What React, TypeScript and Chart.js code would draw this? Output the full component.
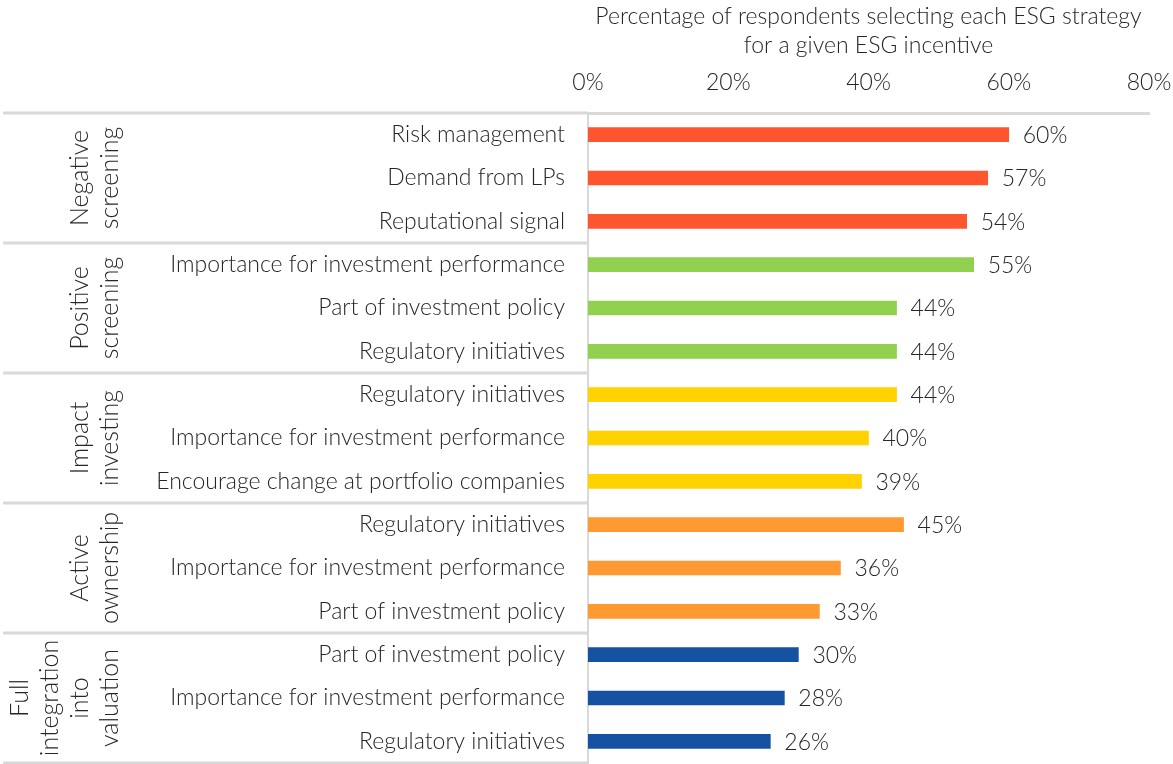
import React, { useEffect, useRef } from "react";
import { Chart, registerables } from "chart.js";

Chart.register(...registerables);

const categories = [
  "Risk management",
  "Demand from LPs",
  "Reputational signal",
  "Importance for investment performance",
  "Part of investment policy",
  "Regulatory initiatives",
  "Regulatory initiatives",
  "Importance for investment performance",
  "Encourage change at portfolio companies",
  "Regulatory initiatives",
  "Importance for investment performance",
  "Part of investment policy",
  "Part of investment policy",
  "Importance for investment performance",
  "Regulatory initiatives",
];

const values = [60, 57, 54, 55, 44, 44, 44, 40, 39, 45, 36, 33, 30, 28, 26];

const groupNames = [
  ["Negative", "screening"],
  ["Positive", "screening"],
  ["Impact", "investing"],
  ["Active", "ownership"],
  ["Full", "integration", "into", "valuation"],
];
const groupSizes = [3, 3, 3, 3, 3];
const groupColors = ["#FF5630", "#92D050", "#FFD200", "#FF9A33", "#1552A2"];

const xTicks = [0, 20, 40, 60, 80];
const axisTitle = [
  "Percentage of respondents selecting each ESG strategy",
  "for a given ESG incentive",
];

const FONT = "Lato";
const TEXT = "#262626";
const LINE = "#D9D9D9";
const FS = 23;

const barColors: string[] = [];
groupSizes.forEach((n, g) => {
  for (let i = 0; i < n; i++) barColors.push(groupColors[g]);
});

const overlay = {
  id: "overlay",
  afterDraw(chart: any) {
    const ctx = chart.ctx;
    const y = chart.scales.y;
    const area = chart.chartArea;
    const meta = chart.getDatasetMeta(0);
    ctx.save();
    ctx.font = `300 ${FS}px ${FONT}`;
    ctx.fillStyle = TEXT;
    ctx.textAlign = "left";
    ctx.textBaseline = "middle";
    meta.data.forEach((bar: any, i: number) => {
      ctx.fillText(values[i] + "%", bar.x + 14, bar.y + 1);
    });
    const step = y.getPixelForValue(1) - y.getPixelForValue(0);
    let start = 0;
    ctx.strokeStyle = LINE;
    ctx.lineWidth = 3;
    const drawSep = (py: number) => {
      ctx.beginPath();
      ctx.moveTo(3, py);
      ctx.lineTo(area.left, py);
      ctx.stroke();
    };
    drawSep(area.top);
    groupSizes.forEach((n, g) => {
      const top = y.getPixelForValue(start) - step / 2;
      const bottom = y.getPixelForValue(start + n - 1) + step / 2;
      drawSep(bottom);
      const cy = (top + bottom) / 2;
      const lines = groupNames[g];
      ctx.fillStyle = TEXT;
      ctx.font = `300 25px ${FONT}`;
      ctx.textAlign = "center";
      ctx.textBaseline = "middle";
      lines.forEach((ln, i) => {
        const cx = 110 - (lines.length - 1 - i) * 30;
        ctx.save();
        ctx.translate(cx, cy);
        ctx.rotate(-Math.PI / 2);
        ctx.fillText(ln, 0, 0);
        ctx.restore();
      });
      start += n;
    });
    ctx.restore();
  },
};

export default function App() {
  const ref = useRef<HTMLCanvasElement>(null);
  useEffect(() => {
    document.body.style.margin = "0";
    const chart = new Chart(ref.current as HTMLCanvasElement, {
      type: "bar",
      data: {
        labels: categories,
        datasets: [
          {
            data: values,
            backgroundColor: barColors,
            barThickness: 14,
          },
        ],
      },
      options: {
        indexAxis: "y",
        animation: false,
        responsive: true,
        maintainAspectRatio: false,
        layout: { padding: { left: 0, right: 24, top: 0, bottom: 1 } },
        plugins: { legend: { display: false }, tooltip: { enabled: false } },
        scales: {
          x: {
            position: "top",
            min: 0,
            max: 80,
            afterBuildTicks: (s: any) => {
              s.ticks = xTicks.map((v) => ({ value: v }));
            },
            afterFit: (s: any) => {
              s.height = 113;
              s.paddingLeft = 0;
              s.paddingRight = 0;
              s.paddingTop = 0;
              s.paddingBottom = 0;
            },
            grid: { display: false, drawTicks: false },
            border: { display: true, color: LINE, width: 3 },
            ticks: {
              padding: 17,
              color: TEXT,
              font: { family: FONT, size: FS, weight: "300" },
              callback: (v: any) => v + "%",
            },
            title: {
              display: true,
              text: axisTitle,
              color: TEXT,
              padding: { top: 3, bottom: 0 },
              font: { family: FONT, size: FS, weight: "300", lineHeight: 1.22 },
            },
          },
          y: {
            afterFit: (s: any) => {
              s.width = 588;
              s.paddingLeft = 0;
              s.paddingRight = 0;
              s.paddingTop = 0;
              s.paddingBottom = 0;
            },
            grid: { display: false, drawTicks: false },
            border: { display: true, color: LINE, width: 2 },
            ticks: {
              padding: 23,
              color: TEXT,
              autoSkip: false,
              font: { family: FONT, size: FS, weight: "300" },
            },
          },
        },
      },
      plugins: [overlay],
    } as any);
    return () => chart.destroy();
  }, []);
  return (
    <div style={{ position: "relative", width: 1173, height: 764 }}>
      <canvas ref={ref} />
    </div>
  );
}
